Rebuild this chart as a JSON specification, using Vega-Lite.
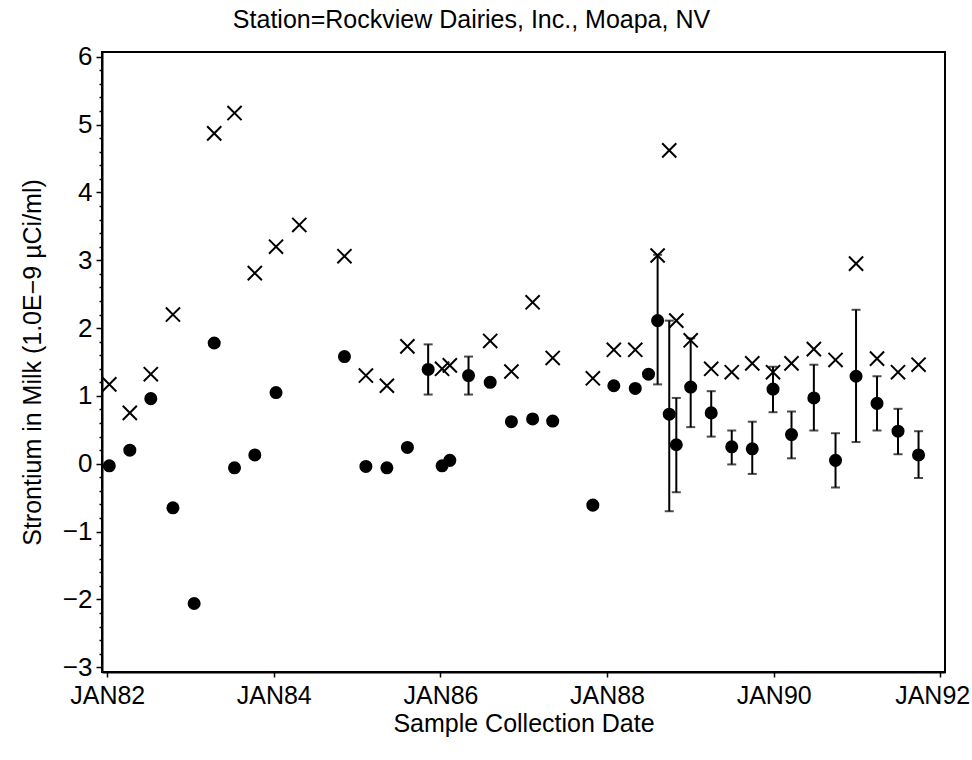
{
  "$schema": "https://vega.github.io/schema/vega-lite/v6.json",
  "width": 843,
  "height": 620,
  "autosize": {"type": "none"},
  "padding": {"left": 102, "top": 52, "right": 27, "bottom": 88},
  "background": "white",
  "config": {
    "font": "Liberation Sans",
    "view": {"stroke": "black", "strokeWidth": 2},
    "axis": {"labelFont": "Liberation Sans", "titleFont": "Liberation Sans", "labelColor": "black", "titleColor": "black", "domainColor": "black", "tickColor": "black", "grid": false},
    "axisY": {"labelOverlap": false, "labelFontSize": 26, "titleFontSize": 25, "titleFontWeight": "normal", "titlePadding": 17, "labelPadding": 4, "domainWidth": 2, "tickWidth": 1.5}
  },
  "title": {
    "text": "Station=Rockview Dairies, Inc., Moapa, NV",
    "fontSize": 25,
    "fontWeight": "normal",
    "font": "Liberation Sans",
    "color": "black",
    "anchor": "middle",
    "dx": -52,
    "offset": 11
  },
  "data": {
    "values": [
      {"date": "1982-01-10", "value": -0.03, "mda": 1.17, "lo": null, "hi": null},
      {"date": "1982-04-10", "value": 0.20, "mda": 0.75, "lo": null, "hi": null},
      {"date": "1982-07-11", "value": 0.96, "mda": 1.32, "lo": null, "hi": null},
      {"date": "1982-10-16", "value": -0.65, "mda": 2.20, "lo": null, "hi": null},
      {"date": "1983-01-17", "value": -2.06, "mda": null, "lo": null, "hi": null},
      {"date": "1983-04-15", "value": 1.78, "mda": 4.87, "lo": null, "hi": null},
      {"date": "1983-07-13", "value": -0.06, "mda": 5.17, "lo": null, "hi": null},
      {"date": "1983-10-10", "value": 0.13, "mda": 2.81, "lo": null, "hi": null},
      {"date": "1984-01-11", "value": 1.05, "mda": 3.20, "lo": null, "hi": null},
      {"date": "1984-04-22", "value": null, "mda": 3.52, "lo": null, "hi": null},
      {"date": "1984-11-06", "value": 1.58, "mda": 3.06, "lo": null, "hi": null},
      {"date": "1985-02-08", "value": -0.04, "mda": 1.30, "lo": null, "hi": null},
      {"date": "1985-05-11", "value": -0.06, "mda": 1.15, "lo": null, "hi": null},
      {"date": "1985-08-09", "value": 0.24, "mda": 1.73, "lo": null, "hi": null},
      {"date": "1985-11-08", "value": 1.39, "mda": null, "lo": 1.02, "hi": 1.76},
      {"date": "1986-01-08", "value": -0.03, "mda": 1.40, "lo": null, "hi": null},
      {"date": "1986-02-11", "value": 0.05, "mda": 1.45, "lo": null, "hi": null},
      {"date": "1986-05-04", "value": 1.30, "mda": null, "lo": 1.02, "hi": 1.58},
      {"date": "1986-08-07", "value": 1.20, "mda": 1.81, "lo": null, "hi": null},
      {"date": "1986-11-08", "value": 0.62, "mda": 1.36, "lo": null, "hi": null},
      {"date": "1987-02-09", "value": 0.66, "mda": 2.38, "lo": null, "hi": null},
      {"date": "1987-05-08", "value": 0.63, "mda": 1.56, "lo": null, "hi": null},
      {"date": "1987-10-31", "value": -0.61, "mda": 1.26, "lo": null, "hi": null},
      {"date": "1988-01-31", "value": 1.15, "mda": 1.68, "lo": null, "hi": null},
      {"date": "1988-05-04", "value": 1.11, "mda": 1.68, "lo": null, "hi": null},
      {"date": "1988-07-01", "value": 1.32, "mda": null, "lo": null, "hi": null},
      {"date": "1988-08-10", "value": 2.11, "mda": 3.07, "lo": 1.17, "hi": 3.08},
      {"date": "1988-09-30", "value": 0.73, "mda": 4.62, "lo": -0.70, "hi": 2.11},
      {"date": "1988-10-31", "value": 0.28, "mda": 2.11, "lo": -0.42, "hi": 0.97},
      {"date": "1989-01-02", "value": 1.13, "mda": 1.82, "lo": 0.54, "hi": 1.85},
      {"date": "1989-04-02", "value": 0.75, "mda": 1.40, "lo": 0.40, "hi": 1.07},
      {"date": "1989-07-01", "value": 0.25, "mda": 1.35, "lo": -0.01, "hi": 0.49},
      {"date": "1989-09-29", "value": 0.22, "mda": 1.48, "lo": -0.15, "hi": 0.62},
      {"date": "1989-12-29", "value": 1.10, "mda": 1.35, "lo": 0.76, "hi": 1.43},
      {"date": "1990-03-20", "value": 0.43, "mda": 1.48, "lo": 0.08, "hi": 0.77},
      {"date": "1990-06-26", "value": 0.97, "mda": 1.69, "lo": 0.49, "hi": 1.46},
      {"date": "1990-09-29", "value": 0.05, "mda": 1.53, "lo": -0.35, "hi": 0.45},
      {"date": "1990-12-28", "value": 1.29, "mda": 2.95, "lo": 0.32, "hi": 2.27},
      {"date": "1991-03-30", "value": 0.89, "mda": 1.55, "lo": 0.49, "hi": 1.29},
      {"date": "1991-06-30", "value": 0.48, "mda": 1.35, "lo": 0.14, "hi": 0.81},
      {"date": "1991-09-28", "value": 0.13, "mda": 1.46, "lo": -0.21, "hi": 0.48}
    ]
  },
  "encoding": {
    "x": {
      "field": "date",
      "type": "temporal",
      "scale": {"type": "utc", "domain": [{"year": 1981, "month": 12, "date": 9, "utc": true}, {"year": 1992, "month": 1, "date": 22, "utc": true}]},
      "axis": {
        "title": "Sample Collection Date",
        "titleFontSize": 25,
        "titleFontWeight": "normal",
        "titlePadding": 3,
        "labelFontSize": 25,
        "labelPadding": 6,
        "labelOverlap": false,
        "labelBound": false,
        "tickSize": 5,
        "tickWidth": 1.5,
        "domainWidth": 2,
        "values": [
          {"year": 1982, "month": 1, "date": 1, "utc": true},
          {"year": 1984, "month": 1, "date": 1, "utc": true},
          {"year": 1986, "month": 1, "date": 1, "utc": true},
          {"year": 1988, "month": 1, "date": 1, "utc": true},
          {"year": 1990, "month": 1, "date": 1, "utc": true},
          {"year": 1992, "month": 1, "date": 1, "utc": true}
        ],
        "labelExpr": "upper(utcFormat(datum.value, '%b%y'))",
        "labelOffset": {"condition": {"test": "datum.value > 690000000000", "value": -8}, "value": 0}
      }
    }
  },
  "layer": [
    {
      "mark": {"type": "rule", "color": "black", "strokeWidth": 2},
      "encoding": {
        "y": {
          "field": "lo",
          "type": "quantitative",
          "scale": {"domain": [-3.07, 6.07], "nice": false, "zero": false},
          "axis": {
            "title": "Strontium in Milk (1.0E−9 µCi/ml)",
            "labelOverlap": false,
            "tickCount": 100,
            "values": [-3, -2.8, -2.6, -2.4, -2.2, -2, -1.8, -1.6, -1.4, -1.2, -1, -0.8, -0.6, -0.4, -0.2, 0, 0.2, 0.4, 0.6, 0.8, 1, 1.2, 1.4, 1.6, 1.8, 2, 2.2, 2.4, 2.6, 2.8, 3, 3.2, 3.4, 3.6, 3.8, 4, 4.2, 4.4, 4.6, 4.8, 5, 5.2, 5.4, 5.6, 5.8, 6],
            "tickSize": {"condition": {"test": "abs(datum.value - round(datum.value)) < 0.001", "value": 6}, "value": 3},
            "labelExpr": "abs(datum.value - round(datum.value)) < 0.001 ? format(datum.value, 'd') : ''"
          }
        },
        "y2": {"field": "hi"}
      }
    },
    {
      "mark": {"type": "tick", "orient": "horizontal", "color": "black", "size": 9, "thickness": 2},
      "encoding": {
        "y": {"field": "lo", "type": "quantitative", "scale": {"domain": [-3.07, 6.07], "nice": false, "zero": false}}
      }
    },
    {
      "mark": {"type": "tick", "orient": "horizontal", "color": "black", "size": 9, "thickness": 2},
      "encoding": {
        "y": {"field": "hi", "type": "quantitative", "scale": {"domain": [-3.07, 6.07], "nice": false, "zero": false}}
      }
    },
    {
      "mark": {"type": "point", "shape": "M-1,-1L1,1M-1,1L1,-1", "filled": false, "color": "black", "strokeWidth": 2, "size": 200, "opacity": 1},
      "encoding": {
        "y": {"field": "mda", "type": "quantitative", "scale": {"domain": [-3.07, 6.07], "nice": false, "zero": false}}
      }
    },
    {
      "mark": {"type": "point", "shape": "circle", "filled": true, "color": "black", "size": 170, "opacity": 1},
      "encoding": {
        "y": {"field": "value", "type": "quantitative", "scale": {"domain": [-3.07, 6.07], "nice": false, "zero": false}}
      }
    }
  ]
}
